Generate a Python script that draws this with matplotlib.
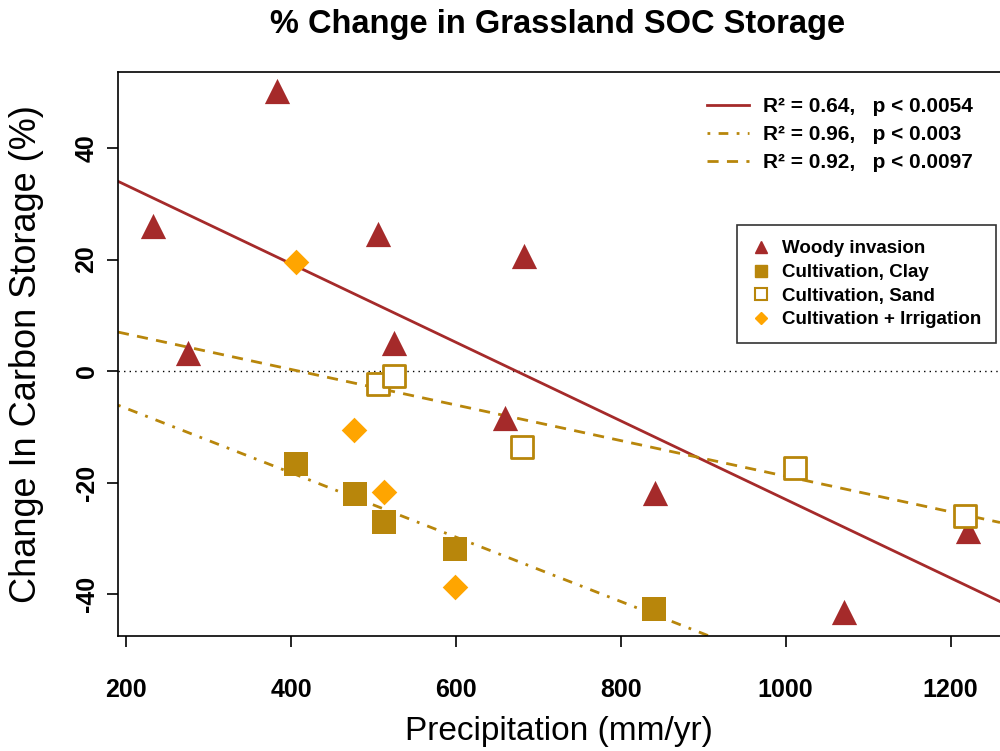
import matplotlib
matplotlib.use("Agg")
import matplotlib.pyplot as plt
from matplotlib.lines import Line2D
import numpy as np

plt.rcParams['font.family'] = ['Liberation Sans', 'DejaVu Sans']
plt.rcParams['axes.unicode_minus'] = False

# precipitation (mm/yr) vs % change in soil organic carbon
woody_x = [232, 275, 383, 505, 525, 660, 682, 841, 1071, 1221]
woody_y = [26.0, 3.2, 50.2, 24.6, 5.0, -8.4, 20.6, -21.8, -43.2, -28.7]

clay_x = [406, 478, 513, 599, 840]
clay_y = [-16.7, -22.1, -27.1, -31.9, -42.7]

sand_x = [505, 525, 680, 1011, 1218]
sand_y = [-2.3, -0.9, -13.6, -17.4, -26.0]

irrig_x = [406, 476, 513, 599]
irrig_y = [19.6, -10.6, -21.7, -38.7]

# regression fits: (intercept, slope)
woody_fit = (47.4, -0.0704)
clay_fit = (4.86, -0.0577)
sand_fit = (13.06, -0.0319)

fit_labels = ['R² = 0.64,   p < 0.0054',
              'R² = 0.96,   p < 0.003',
              'R² = 0.92,   p < 0.0097']
group_labels = ['Woody invasion', 'Cultivation, Clay',
                'Cultivation, Sand', 'Cultivation + Irrigation']

red = '#A52A2A'
gold = '#B8860B'
orange = '#FFA500'

fig = plt.figure(figsize=(10, 7.51), dpi=100)
ax = fig.add_axes([0.118, 0.153, 0.882, 0.751])

xlim = (190, 1260)
ylim = (-47.5, 53.6)
xs = np.array(xlim)

ax.axhline(0, color='black', lw=1, linestyle=(0, (1, 3)))

ax.plot(xs, woody_fit[0] + woody_fit[1] * xs, color=red, lw=2)
ax.plot(xs, clay_fit[0] + clay_fit[1] * xs, color=gold, lw=2,
        linestyle=(0, (1, 3, 3.5, 3)))
ax.plot(xs, sand_fit[0] + sand_fit[1] * xs, color=gold, lw=2,
        linestyle=(0, (4, 3)))

ax.scatter(woody_x, woody_y, marker='^', s=330, color=red, zorder=3, linewidths=0)
ax.scatter(clay_x, clay_y, marker='s', s=300, color=gold, zorder=3, linewidths=0)
ax.scatter(sand_x, sand_y, marker='s', s=240, facecolors='white',
           edgecolors=gold, linewidths=2, zorder=3)
ax.scatter(irrig_x, irrig_y, marker='D', s=170, color=orange, zorder=3, linewidths=0)

ax.set_xlim(xlim)
ax.set_ylim(ylim)
ax.set_xticks([200, 400, 600, 800, 1000, 1200])
ax.set_yticks([-40, -20, 0, 20, 40])
ax.spines['right'].set_visible(False)
for s in ['top', 'left', 'bottom']:
    ax.spines[s].set_linewidth(1.2)
ax.tick_params(direction='out', length=8, width=1.2, labelsize=18)
ax.tick_params(axis='x', pad=22)
ax.tick_params(axis='y', pad=6)
for lab in ax.get_xticklabels() + ax.get_yticklabels():
    lab.set_fontweight('bold')
for lab in ax.get_yticklabels():
    lab.set_rotation(90)
    lab.set_va('center')

ax.set_xlabel('Precipitation (mm/yr)', fontsize=24, labelpad=10)
ax.set_ylabel('Change In Carbon Storage (%)', fontsize=26, labelpad=22)
fig.text(0.558, 0.968, '% Change in Grassland SOC Storage', ha='center',
         va='center', fontsize=23.5, fontweight='bold')

fit_handles = [Line2D([], [], color=red, lw=2),
               Line2D([], [], color=gold, lw=2, linestyle=(0, (1, 3, 3.5, 3))),
               Line2D([], [], color=gold, lw=2, linestyle=(0, (4, 3)))]
leg1 = ax.legend(fit_handles, fit_labels, loc='upper left',
                 bbox_to_anchor=(0.707, 0.871), bbox_transform=fig.transFigure,
                 frameon=False, prop={'weight': 'bold', 'size': 15},
                 handlelength=2.0, handletextpad=0.7, labelspacing=0.43,
                 borderaxespad=0, borderpad=0)
ax.add_artist(leg1)

group_handles = [Line2D([], [], marker='^', color=red, ls='none', ms=8),
                 Line2D([], [], marker='s', color=gold, ls='none', ms=8),
                 Line2D([], [], marker='s', markerfacecolor='white',
                        markeredgecolor=gold, markeredgewidth=1.5, ls='none', ms=8),
                 Line2D([], [], marker='D', color=orange, ls='none', ms=6)]
leg2 = ax.legend(group_handles, group_labels, loc='upper left',
                 bbox_to_anchor=(0.737, 0.7), bbox_transform=fig.transFigure,
                 frameon=True, fancybox=False, edgecolor='black',
                 prop={'weight': 'bold', 'size': 13.5},
                 handlelength=1.0, handletextpad=0.6, labelspacing=0.35,
                 borderaxespad=0, borderpad=0.8)
leg2.get_frame().set_linewidth(1.2)

fig.savefig('out.png', dpi=100)
